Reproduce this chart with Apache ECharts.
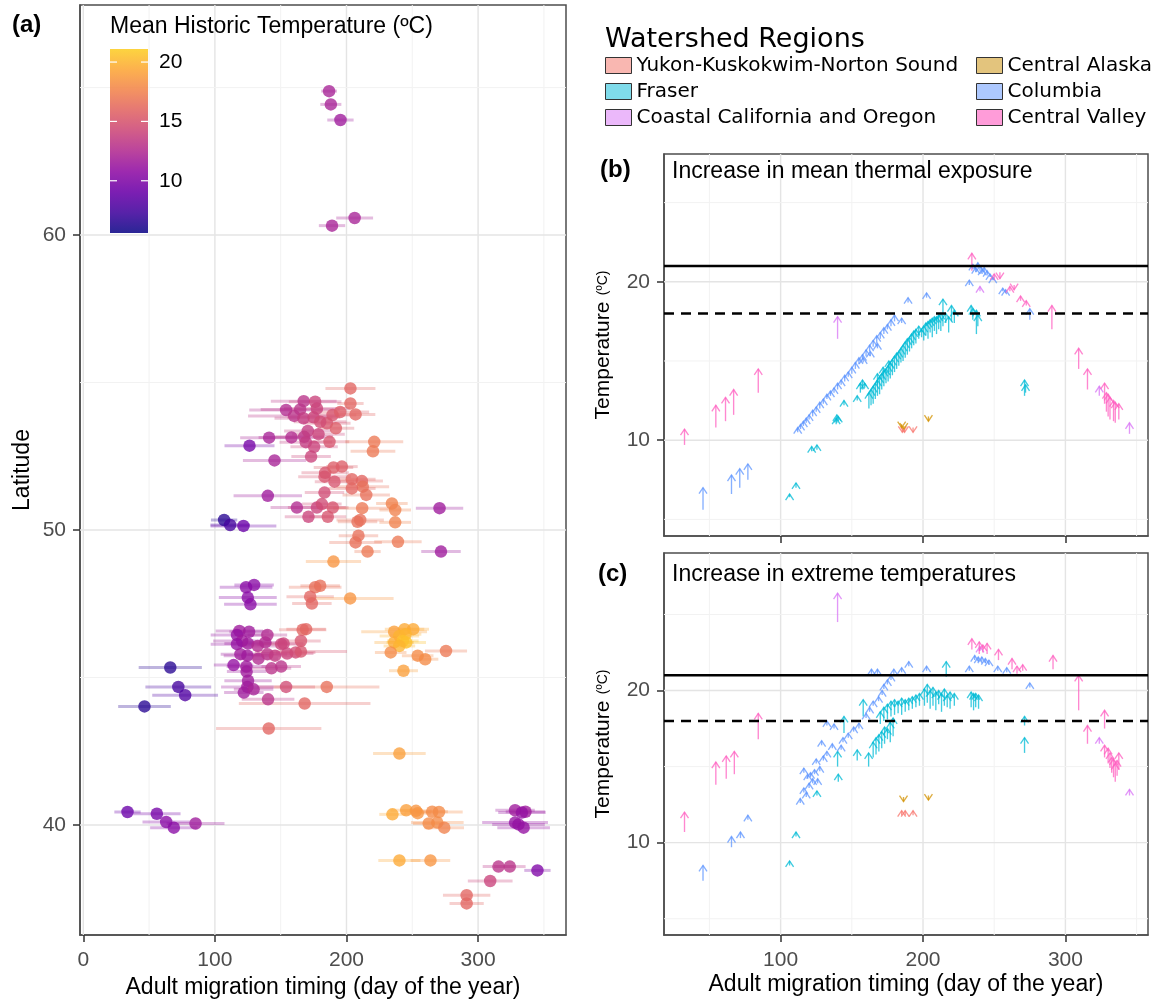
<!DOCTYPE html>
<html><head><meta charset="utf-8">
<script src="https://cdn.jsdelivr.net/npm/echarts@6/dist/echarts.min.js"></script>
<style>html,body{margin:0;padding:0;background:#fff}#c{width:1157px;height:1001px}</style>
</head><body><div id="c"></div>
<script>
// ---------- Panel (a): day, latitude, mean historic temperature, error half-width ----------
const aDay = [
 186.8,188.1,195.4,206.2,189.0,
 203.0,203.0,167.5,176.2,154.1,164.8,177.5,160.2,167.3,175.0,189.4,195.2,
 206.9,185.1,191.9,180.0,141.2,126.3,158.2,167.8,170.6,178.7,169.1,187.1,
 175.4,173.1,145.3,221.1,220.1,183.8,183.3,190.1,196.5,190.9,204.1,211.7,
 212.4,215.0,204.1,183.3,140.2,162.3,177.5,181.3,189.6,171.1,185.8,211.9,
 234.5,237.0,270.7,107.0,111.6,121.7,208.4,210.4,237.0,209.1,206.9,239.1,
 216.0,271.8,190.1,123.7,129.8,125.0,127.0,176.2,180.0,172.4,173.7,202.8,
 169.3,166.7,118.6,126.0,116.8,139.9,120.7,138.3,116.8,125.2,132.5,150.4,152.2,165.4,
 119.4,124.7,133.1,139.9,145.7,154.9,161.4,165.4,114.2,123.9,143.0,150.4,124.1,125.2,
 124.7,122.0,129.4,154.1,140.4,185.0,168.2,140.9,66.1,72.2,77.4,46.5,
 236.2,244.1,250.7,240.2,244.9,236.2,242.8,245.4,240.2,233.6,254.1,259.8,275.6,243.3,
 240.2,33.6,55.9,63.0,68.8,85.3,234.9,245.4,252.8,254.1,265.1,270.3,262.5,269.0,274.3,
 328.1,336.0,333.3,328.1,330.7,334.6,240.2,263.8,315.5,324.1,345.1,309.2,291.3,291.3
];
const aLat = [
 64.88,64.43,63.90,60.58,60.32,
 54.80,54.29,54.37,54.35,54.07,54.09,54.12,53.87,53.79,53.82,53.90,54.00,
 53.92,53.62,53.45,53.67,53.13,52.86,53.14,53.16,53.36,53.25,52.98,52.99,
 52.82,52.49,52.36,52.99,52.67,51.94,51.81,52.12,52.15,51.64,51.72,51.66,
 51.47,51.19,51.41,51.27,51.16,50.76,50.76,50.88,50.76,50.45,50.45,50.74,
 50.90,50.68,50.74,50.34,50.17,50.14,50.28,50.34,50.26,49.81,49.58,49.60,
 49.27,49.27,48.93,48.06,48.14,47.71,47.48,48.06,48.11,47.74,47.51,47.68,
 46.64,46.62,46.58,46.55,46.44,46.44,46.24,46.19,46.13,46.15,46.07,46.13,46.15,46.24,
 45.79,45.74,45.64,45.79,45.74,45.81,45.85,45.88,45.42,45.37,45.31,45.37,45.20,44.89,
 44.68,44.49,44.60,44.68,44.26,44.68,44.12,43.27,45.34,44.68,44.40,44.02,
 46.55,46.64,46.64,46.41,46.47,46.19,46.24,46.19,46.07,45.85,45.74,45.62,45.90,45.23,
 42.42,40.44,40.38,40.10,39.91,40.05,40.36,40.50,40.48,40.40,40.45,40.44,40.05,40.08,39.91,
 40.50,40.45,40.42,40.08,40.02,39.91,38.80,38.80,38.59,38.59,38.46,38.10,37.62,37.34
];
const aTemp = [
 12,12,11.5,12,12,
 16,16,13,14,12.5,13,14,13,13.5,14,15,15.5,
 16,15,15.5,14.5,12,9.5,12.5,13,13.5,14,13.5,15,
 14,14,12,17,17,15,15,15.5,15.5,15,16,16,
 16.5,16.5,16,14.5,11.5,12.5,14,14.5,15,14,15,17,
 17.5,17.5,11.5,6.5,7.5,9,16.5,16.5,17.5,16.5,16.5,17,
 17,11.5,18.5,10.5,10.5,10.5,10.5,16.5,16.5,16,16,18.5,
 16,16,11.5,11.5,11,12.5,11.5,12.5,11,11.5,12.5,14,14,15,
 11.5,11.5,12.5,13,13.5,14,14.5,15,11,11.5,13,13,11.5,11.5,
 11.5,11.5,12,14.5,13,16.5,16,16,6.5,7.5,8,6.5,
 19,19.5,19.5,20,20,19.5,20.5,20.5,20,18,18,18,17,19,
 19,9,9.5,10.5,10.5,11.5,19.5,19,18.5,18.5,18,18,18,18,17.5,
 11.5,11.5,11,11,11,11,19.5,18.5,13,13,10,14,16,16
];
const aErr = [
 6,8,10,14,10,
 19,10,25,20,28,30,25,35,22,20,18,22,
 15,18,14,20,22,19,25,22,18,20,20,15,
 18,15,24,22,17,18,20,15,12,15,18,16,
 20,18,18,15,26,20,22,15,12,18,14,22,
 12,12,18,10,15,25,15,18,12,15,20,18,
 10,15,21,20,15,22,20,20,15,18,15,33,
 15,18,18,15,20,15,22,15,20,18,15,18,15,15,
 15,18,15,15,18,20,15,35,15,15,15,15,15,18,
 20,15,15,22,20,40,50,40,24,25,25,20,
 25,15,12,15,12,15,12,15,12,12,12,10,16,11,
 20,10,18,18,18,22,10,12,12,10,12,18,12,20,15,
 15,15,18,25,20,20,16,15,12,12,10,17,18,13
];

// ---------- Panels (b),(c): [day, temperature from, temperature to] per region ----------
const regionNames = ['Yukon-Kuskokwim-Norton Sound','Central Alaska','Fraser','Columbia','Coastal California and Oregon','Central Valley'];
const regionLine = ['#F8766D','#D39200','#00BBD6','#5F95FF','#D874F5','#FF5FC0'];
const regionFill = ['#F9B7B1','#E3C47D','#7FDBEA','#ADC8FE','#EBB8FA','#FF9CD9'];

const bYukon = [[185.5,10.8,10.5],[187,10.7,10.5],[193,10.8,10.5]];
const bAlaska = [[185,11.0,10.8],[186.5,10.9,10.7],[203.8,11.5,11.2]];
const bFraser = [
 [106.3,6.4,6.6],[110.8,7.0,7.3],[121.8,9.3,9.6],[125.5,9.4,9.7],
 [139,11.0,11.4],[139.5,11.1,11.6],[140.5,11.2,11.5],[144.5,12.2,12.5],[153.8,12.5,12.8],[156,13.0,13.6],[157.5,13.2,13.8],[159,13.3,13.6],
 [162,12.0,13.0],[163.5,12.2,13.2],[165,12.3,13.4],[166.5,12.6,13.6],[168,12.8,13.8],[169.5,12.9,14.0],[171,13.2,14.2],[172.5,13.4,14.4],
 [174,13.6,14.5],[175.5,13.7,14.7],[177,13.9,14.9],[178.5,14.1,15.1],[180,14.3,15.3],[181.5,14.5,15.5],[183,14.7,15.6],[184.5,14.9,15.8],
 [186,15.0,16.0],[187.5,15.2,16.2],[189,15.4,16.4],[190.5,15.6,16.5],[192,15.8,16.7],[193.5,16.0,16.9],[195,16.1,17.0],[197,16.4,17.2],
 [168,13.5,14.2],[172,13.9,14.6],[176,14.3,15.0],
 [199,16.5,17.0],[200.5,16.3,17.2],[202,16.6,17.4],[203.5,16.4,17.5],[205,16.8,17.6],[206.5,16.5,17.7],[208,16.9,17.8],[209.5,16.7,17.8],
 [211,17.0,17.9],[212.5,16.9,18.0],[214,17.2,18.9],[216,17.4,18.0],[218,16.8,17.8],[220,17.5,18.5],[222,17.4,18.2],
 [233.8,18.0,18.5],[235,17.6,18.3],[237.5,16.7,18.2],[238.5,17.2,17.9],[271.3,12.8,13.8],[272,13.0,13.5]
];
const bColumbia = [
 [45.5,5.6,7.0],[65.5,6.6,7.8],[71.3,7.0,8.2],[77,7.5,8.5],
 [112,10.5,10.8],[114,10.7,11.0],[116,10.9,11.2],[118,11.1,11.4],[120,11.3,11.6],[122.5,11.5,11.9],[125,11.8,12.1],[127.5,12.0,12.4],
 [130,12.3,12.6],[132.5,12.6,12.9],[135,12.8,13.1],[137.5,13.0,13.3],[140,13.2,13.6],[142.5,13.5,13.8],[145,13.7,14.1],[147.5,14.0,14.3],
 [150,14.2,14.6],[152.5,14.5,14.9],[155,14.8,15.2],[157.5,15.1,15.4],[160,15.3,15.7],[162.5,15.6,16.0],[165,15.9,16.3],[167.5,16.1,16.6],
 [170,16.4,16.8],[172.5,16.7,17.1],[175,17.0,17.3],[177.5,17.2,17.6],[180,17.5,17.9],
 [158,14.9,15.2],[163,15.3,15.6],[168,15.8,16.1],
 [185,17.4,17.7],[189.5,18.7,19.0],[202.5,19.0,19.3],[232.5,19.8,20.1],
 [235,20.8,21.1],[237,20.6,20.9],[238.5,20.9,21.2],[240,20.7,21.0],[241.5,20.5,20.8],[243,20.6,20.9],[245,20.4,20.7],[247,20.3,20.5],
 [249,20.1,20.3],[256,19.4,19.6],[258,19.3,19.5],[275,17.6,18.3]
];
const bCoastal = [[140,16.4,17.8],[240,19.4,19.7],[323.8,12.8,13.4],[345,10.4,11.1]];
const bValley = [
 [32.5,9.7,10.7],[54.5,10.8,12.2],[61.3,11.2,12.7],[67,11.6,13.2],[84.3,13.0,14.5],
 [234.3,20.7,21.8],[250,20.1,20.5],[254,20.6,20.2],[261,19.4,19.7],[264,19.8,19.5],[268.5,18.8,19.1],[272.5,18.5,18.8],
 [290.5,17.0,18.5],[309.3,14.5,15.8],[315.5,13.2,14.5],[327.5,12.3,13.6],[328.8,11.8,13.0],[330,11.5,12.9],[331.3,11.3,12.7],
 [333.8,11.2,12.5],[335,11.1,12.4],[337.5,11.3,12.3]
];

const cYukon = [[185,11.8,12.1],[187.5,11.8,12.1],[193,11.8,12.1]];
const cAlaska = [[186.3,13.0,12.7],[203.8,13.1,12.8]];
const cFraser = [
 [106.3,8.5,8.8],[110.8,10.4,10.7],[125.5,13.1,13.4],[140.5,14.0,14.5],[140,15.0,16.0],[144.5,17.2,18.3],[153.8,15.4,16.1],[158,18.3,19.4],[161.8,15.0,15.9],
 [165,15.6,16.6],[167,15.8,16.9],[169,16.0,17.1],[171,16.2,17.3],[173,16.5,17.6],[175,16.8,17.5],[177,16.6,17.9],[179,17.0,18.2],
 [170,17.8,18.6],[172.5,18.0,18.9],[175,18.1,19.1],[177.5,18.3,19.3],[180,18.4,19.4],[182.5,18.5,19.3],[185,18.4,19.5],[187.5,18.6,19.4],
 [190,18.7,19.5],[192.5,18.8,19.6],[195,18.9,19.7],[197.5,19.0,19.8],
 [201,19.0,20.1],[203,19.2,20.4],[205,18.8,20.0],[207,19.0,20.2],[209,18.7,19.9],[211,19.1,20.0],[213,18.6,19.8],[215,19.0,20.1],
 [217,18.9,19.7],[219,18.8,19.9],[222,19.0,19.8],[216.3,20.9,21.9],
 [233.8,18.9,19.9],[235.5,18.7,19.8],[237,18.9,19.8],[239,18.8,19.7],[271.3,17.7,18.3],[271.3,15.9,16.9]
];
const cColumbia = [
 [45.5,7.5,8.5],[65.5,9.7,10.4],[71.8,10.3,10.7],[77,11.5,11.8],
 [113.8,12.6,12.9],[116.3,13.3,13.6],[116.3,14.6,14.9],[118,13.0,13.3],[119,14.2,14.5],[120,13.6,13.9],[121,14.3,14.6],[122.5,13.9,14.2],
 [123.8,14.5,14.8],[125,15.2,15.5],[126,13.9,14.2],[127.5,14.7,15.0],[128.8,16.4,16.7],[130,15.4,15.7],[132.5,15.7,16.0],[136.3,16.2,16.5],
 [132.5,17.7,18.0],[137.5,17.5,17.8],[142.5,16.1,16.4],[143.8,16.6,16.9],[147.5,16.9,17.2],[151.3,17.3,17.6],[155,17.5,17.85],
 [160,18.2,18.5],[162.5,18.6,18.9],[165,19.0,19.3],[168.8,19.3,19.6],[171.3,19.7,20.0],[172.5,20.1,20.4],[175,20.4,20.7],[177.5,20.7,21.0],
 [179.5,21.1,21.4],[163.8,21.1,21.4],[168,21.1,21.4],[185,21.2,21.5],[190,21.6,21.9],[202.5,21.3,21.6],[232.5,21.3,21.6],
 [236.3,22.0,22.3],[238.8,21.9,22.2],[241.3,21.9,22.2],[243.8,21.8,22.1],[246.3,21.7,22.0],[252.5,21.3,21.6],[258.8,21.2,21.5],[275,20.2,20.5]
];
const cCoastal = [[140,24.5,26.4],[240,22.6,22.9],[323.8,16.5,16.9],[345,13.1,13.5]];
const cValley = [
 [32.5,10.7,12.0],[54.5,13.8,15.3],[61.8,14.2,15.7],[67.5,14.5,16.0],[84.3,16.8,18.5],
 [234.3,22.7,23.4],[239.5,22.4,23.2],[242,22.5,23.0],[245,22.4,23.1],[253,22.0,22.7],[262.5,21.4,22.1],[266,21.1,21.6],[270,21.3,21.7],
 [291.3,21.4,22.3],[309.3,18.7,21.0],[315.5,16.5,17.7],
 [327.5,17.5,18.7],[327.5,15.6,16.4],[330,15.3,16.2],[331.3,14.9,15.9],[332.5,14.6,15.6],[333.8,14.3,15.5],[335,14.0,15.2],[336.3,14.4,15.4],[337.5,14.8,15.9]
];

// thresholds (°C) and tick values
const thresholds = [21, 18];
const thresholdDashed = [0, 1];
const aXTicks = [0,100,200,300], aXMinor = [50,150,250,350];
const aYTicks = [40,50,60], aYMinor = [45,55,65];
const bcXTicks = [100,200,300], bcXMinor = [50,150,250,350];
const bcYTicks = [10,20], bcYMinor = [5,15,25];
const cbTicks = [10,15,20];
const cbRange = [5.6, 21.1];

// ---------- layout ----------
const FONT = '"Liberation Sans", Arial, sans-serif';
const plasma = ['#0d0887','#41049d','#6a00a8','#8f0da4','#b12a90','#cc4778','#e16462','#f2844b','#fca636','#fcce25'];
const aXR = [-2.5, 366.8], aYR = [36.27, 67.8];
const bXR = [18.1, 358], bYR = [3.95, 28.07], cYR = [3.93, 29.04];

function gridData(xMaj, xMin, yMaj, yMin) {
  const d = [];
  xMaj.forEach(v => d.push([v, 0, 1])); xMin.forEach(v => d.push([v, 0, 0]));
  yMaj.forEach(v => d.push([v, 1, 1])); yMin.forEach(v => d.push([v, 1, 0]));
  return d;
}
function gridRender(xr, yr) {
  return function (params, api) {
    const v = api.value(0), ax = api.value(1), mj = api.value(2);
    const p1 = ax === 0 ? api.coord([v, yr[0]]) : api.coord([xr[0], v]);
    const p2 = ax === 0 ? api.coord([v, yr[1]]) : api.coord([xr[1], v]);
    return {type: 'line', silent: true, shape: {x1: p1[0], y1: p1[1], x2: p2[0], y2: p2[1]},
      style: {stroke: mj ? '#E4E4E4' : '#F2F2F2', lineWidth: mj ? 1.4 : 1}};
  };
}
function thrRender(xr) {
  return function (params, api) {
    const v = api.value(0), dashed = api.value(1);
    const p1 = api.coord([xr[0], v]), p2 = api.coord([xr[1], v]);
    return {type: 'line', shape: {x1: p1[0], y1: p1[1], x2: p2[0], y2: p2[1]},
      style: {stroke: '#000', lineWidth: 2.4, lineDash: dashed ? [10, 7] : null}};
  };
}
function arrowRender(color) {
  return function (params, api) {
    const x = api.value(0), y0 = api.value(1), y1 = api.value(2);
    const p0 = api.coord([x, y0]), p1 = api.coord([x, y1]);
    const d = p1[1] <= p0[1] ? 1 : -1;
    const hw = 4, hl = 6;
    return {type: 'group', children: [
      {type: 'line', shape: {x1: p0[0], y1: p0[1], x2: p1[0], y2: p1[1]}, style: {stroke: color, lineWidth: 1.35, opacity: 0.75}},
      {type: 'polyline', shape: {points: [[p1[0] - hw, p1[1] + d * hl], [p1[0], p1[1]], [p1[0] + hw, p1[1] + d * hl]]},
        style: {stroke: color, fill: null, lineWidth: 1.35, opacity: 0.75}}
    ]};
  };
}
function xAx(gi, r, ticks, showLabel, name) {
  return {type: 'value', gridIndex: gi, min: r[0], max: r[1], splitLine: {show: false},
    axisLine: {show: true, onZero: false, lineStyle: {color: '#4d4d4d', width: 1.5}},
    axisTick: {show: true, customValues: ticks, length: 7, lineStyle: {color: '#333', width: 1.5}},
    axisLabel: {show: showLabel, customValues: ticks, fontSize: 21, color: '#4D4D4D', fontFamily: FONT, margin: 15},
    name: name || '', nameLocation: 'middle', nameGap: 38, nameTextStyle: {fontSize: 23, color: '#000', fontFamily: FONT}};
}
function yAx(gi, r, ticks, name, gap, rich) {
  const o = {type: 'value', gridIndex: gi, min: r[0], max: r[1], splitLine: {show: false},
    axisLine: {show: true, onZero: false, lineStyle: {color: '#4d4d4d', width: 1.5}},
    axisTick: {show: true, customValues: ticks, length: 7, lineStyle: {color: '#333', width: 1.5}},
    axisLabel: {customValues: ticks, fontSize: 21, color: '#4D4D4D', fontFamily: FONT, margin: 14},
    name: name, nameLocation: 'middle', nameGap: gap, nameTextStyle: {fontSize: 23, color: '#000', fontFamily: FONT}};
  if (rich) o.nameTextStyle.rich = rich;
  return o;
}
const tempRich = {t: {fontSize: 21, color: '#000', fontFamily: FONT}, u: {fontSize: 14, color: '#000', fontFamily: FONT}};

const series = [];
series.push({type: 'custom', name: 'gridA', xAxisIndex: 0, yAxisIndex: 0, z: 1, silent: true, clip: false,
  data: gridData(aXTicks, aXMinor, aYTicks, aYMinor), renderItem: gridRender(aXR, aYR)});
series.push({type: 'custom', name: 'gridB', xAxisIndex: 1, yAxisIndex: 1, z: 1, silent: true, clip: false,
  data: gridData(bcXTicks, bcXMinor, bcYTicks, bcYMinor), renderItem: gridRender(bXR, bYR)});
series.push({type: 'custom', name: 'gridC', xAxisIndex: 2, yAxisIndex: 2, z: 1, silent: true, clip: false,
  data: gridData(bcXTicks, bcXMinor, bcYTicks, bcYMinor), renderItem: gridRender(bXR, cYR)});
// error bars (index 3) and points (index 4)
series.push({type: 'custom', name: 'errA', xAxisIndex: 0, yAxisIndex: 0, z: 3, clip: true, encode: {x: 0, y: 1},
  data: aDay.map((d, i) => [d, aLat[i], aTemp[i], aErr[i]]),
  renderItem: function (params, api) {
    const d = api.value(0), l = api.value(1), e = api.value(3);
    const p1 = api.coord([d - e, l]), p2 = api.coord([d + e, l]);
    return {type: 'line', shape: {x1: p1[0], y1: p1[1], x2: p2[0], y2: p2[1]},
      style: {stroke: api.visual('color'), lineWidth: 3, opacity: 0.3}};
  }});
series.push({type: 'scatter', name: 'pointsA', xAxisIndex: 0, yAxisIndex: 0, z: 4, symbolSize: 12.5,
  itemStyle: {opacity: 0.78}, data: aDay.map((d, i) => [d, aLat[i], aTemp[i]])});

const bSets = [bYukon, bAlaska, bFraser, bColumbia, bCoastal, bValley];
const cSets = [cYukon, cAlaska, cFraser, cColumbia, cCoastal, cValley];
bSets.forEach((set, k) => series.push({type: 'custom', name: regionNames[k], xAxisIndex: 1, yAxisIndex: 1, z: 5, clip: true,
  itemStyle: {color: regionFill[k]}, encode: {x: 0, y: [1, 2]}, data: set, renderItem: arrowRender(regionLine[k])}));
cSets.forEach((set, k) => series.push({type: 'custom', name: regionNames[k], xAxisIndex: 2, yAxisIndex: 2, z: 5, clip: true,
  itemStyle: {color: regionFill[k]}, encode: {x: 0, y: [1, 2]}, data: set, renderItem: arrowRender(regionLine[k])}));
series.push({type: 'custom', name: 'thrB', xAxisIndex: 1, yAxisIndex: 1, z: 6, silent: true, clip: false,
  data: thresholds.map((t, i) => [t, thresholdDashed[i]]), renderItem: thrRender(bXR)});
series.push({type: 'custom', name: 'thrC', xAxisIndex: 2, yAxisIndex: 2, z: 6, silent: true, clip: false,
  data: thresholds.map((t, i) => [t, thresholdDashed[i]]), renderItem: thrRender(bXR)});

// colour bar graphics for panel (a)
const cb = {x: 110, y: 49, w: 38, h: 184};
const cbY = v => cb.y + cb.h - (v - cbRange[0]) / (cbRange[1] - cbRange[0]) * cb.h;
const graphics = [
  {type: 'rect', shape: {x: cb.x, y: cb.y, width: cb.w, height: cb.h}, z: 100,
    style: {fill: {type: 'linear', x: 0, y: 1, x2: 0, y2: 0, colorStops: plasma.map((c, i) => ({offset: i / (plasma.length - 1), color: c}))}, opacity: 0.88}},
  {type: 'text', x: cb.x, y: 27, z: 100, style: {text: 'Mean Historic Temperature (ºC)', fontSize: 23, fontFamily: FONT, fill: '#000', verticalAlign: 'middle'}},
  {type: 'text', x: 12, y: 25, z: 100, style: {text: '(a)', fontSize: 24, fontWeight: 'bold', fontFamily: FONT, fill: '#000', verticalAlign: 'middle'}},
  {type: 'text', x: 600, y: 170, z: 100, style: {text: '(b)', fontSize: 24, fontWeight: 'bold', fontFamily: FONT, fill: '#000', verticalAlign: 'middle'}},
  {type: 'text', x: 598, y: 574, z: 100, style: {text: '(c)', fontSize: 24, fontWeight: 'bold', fontFamily: FONT, fill: '#000', verticalAlign: 'middle'}},
  {type: 'text', x: 672, y: 172, z: 100, style: {text: 'Increase in mean thermal exposure', fontSize: 23, fontFamily: FONT, fill: '#000', verticalAlign: 'middle'}},
  {type: 'text', x: 672, y: 575, z: 100, style: {text: 'Increase in extreme temperatures', fontSize: 23, fontFamily: FONT, fill: '#000', verticalAlign: 'middle'}},
  {type: 'text', x: 605, y: 40, z: 100, style: {text: 'Watershed Regions', fontSize: 27, fontFamily: '"DejaVu Sans", sans-serif', fill: '#000', verticalAlign: 'middle'}}
];
cbTicks.forEach(v => {
  const y = cbY(v);
  graphics.push({type: 'line', z: 101, shape: {x1: cb.x, y1: y, x2: cb.x + 7, y2: y}, style: {stroke: '#fff', lineWidth: 1.2}});
  graphics.push({type: 'line', z: 101, shape: {x1: cb.x + cb.w - 7, y1: y, x2: cb.x + cb.w, y2: y}, style: {stroke: '#fff', lineWidth: 1.2}});
  graphics.push({type: 'text', z: 101, x: cb.x + cb.w + 11, y: y, style: {text: String(v), fontSize: 21, fontFamily: FONT, fill: '#000', verticalAlign: 'middle'}});
});

const legendBase = {orient: 'vertical', icon: 'rect', itemWidth: 26, itemHeight: 16, itemGap: 6, padding: 0, top: 55.5, selectedMode: false,
  itemStyle: {borderColor: '#333', borderWidth: 1},
  textStyle: {fontSize: 20, lineHeight: 20, fontFamily: '"DejaVu Sans", sans-serif', color: '#000'}};

const option = {
  animation: false,
  backgroundColor: '#fff',
  grid: [
    {left: 80, top: 5, width: 486, height: 930, show: true, borderColor: '#4d4d4d', borderWidth: 1.5, containLabel: false, outerBoundsMode: 'none'},
    {left: 664, top: 154, width: 484, height: 382, show: true, borderColor: '#4d4d4d', borderWidth: 1.5, containLabel: false, outerBoundsMode: 'none'},
    {left: 664, top: 553, width: 484, height: 382, show: true, borderColor: '#4d4d4d', borderWidth: 1.5, containLabel: false, outerBoundsMode: 'none'}
  ],
  xAxis: [
    xAx(0, aXR, aXTicks, true, 'Adult migration timing (day of the year)'),
    xAx(1, bXR, bcXTicks, false, ''),
    xAx(2, bXR, bcXTicks, true, 'Adult migration timing (day of the year)')
  ],
  yAxis: [
    yAx(0, aYR, aYTicks, 'Latitude', 46),
    yAx(1, bYR, bcYTicks, '{t|Temperature} {u|(ºC)}', 49, tempRich),
    yAx(2, cYR, bcYTicks, '{t|Temperature} {u|(ºC)}', 49, tempRich)
  ],
  visualMap: {type: 'continuous', show: false, min: cbRange[0], max: cbRange[1], dimension: 2, seriesIndex: [3, 4], inRange: {color: plasma}},
  legend: [
    Object.assign({}, legendBase, {left: 605, data: [regionNames[0], regionNames[2], regionNames[4]]}),
    Object.assign({}, legendBase, {left: 976, data: [regionNames[1], regionNames[3], regionNames[5]]})
  ],
  graphic: graphics,
  series: series
};
const chart = echarts.init(document.getElementById('c'), null, {renderer: 'canvas'});
chart.setOption(option);
</script></body></html>
